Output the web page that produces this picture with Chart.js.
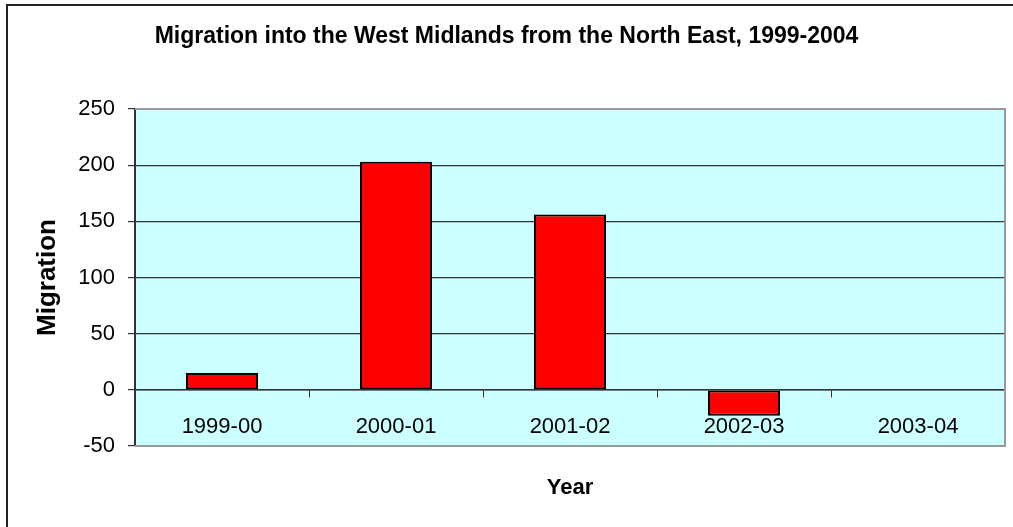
<!DOCTYPE html>
<html><head><meta charset="utf-8">
<script src="https://cdn.jsdelivr.net/npm/chart.js@4.4.1/dist/chart.umd.min.js"></script>
<style>html,body{margin:0;padding:0;background:#fff}#wrap{position:relative;width:1013px;height:527px}</style>
</head><body><div id="wrap"><canvas id="c" width="1013" height="527"></canvas></div>
<script>
const categories = ['1999-00', '2000-01', '2001-02', '2002-03', '2003-04'];
const migration = [15, 203, 156, -23, null];
const yTicks = [-50, 0, 50, 100, 150, 200, 250];
const chartTitle = 'Migration into the West Midlands from the North East, 1999-2004';
const xTitle = 'Year';
const yTitle = 'Migration';

Chart.defaults.font.family = '"Liberation Sans", Arial, sans-serif';
Chart.defaults.color = '#000';

const framePlugin = {
  id: 'framePlugin',
  beforeDraw(chart) {
    const {ctx, chartArea: a} = chart;
    ctx.save();
    ctx.fillStyle = '#CCFFFF';
    ctx.fillRect(a.left, a.top, a.right - a.left, a.bottom - a.top);
    ctx.strokeStyle = '#222';
    ctx.lineWidth = 2;
    ctx.beginPath();
    ctx.moveTo(7, chart.height);
    ctx.lineTo(7, 5);
    ctx.lineTo(chart.width, 5);
    ctx.stroke();
    ctx.restore();
  },
  afterDraw(chart) {
    const {ctx, chartArea: a} = chart;
    ctx.save();
    ctx.strokeStyle = '#999';
    ctx.lineWidth = 2;
    ctx.beginPath();
    ctx.moveTo(a.left, a.top);
    ctx.lineTo(a.right, a.top);
    ctx.lineTo(a.right, a.bottom);
    ctx.lineTo(a.left, a.bottom);
    ctx.stroke();
    ctx.restore();
  }
};

new Chart(document.getElementById('c'), {
  type: 'bar',
  data: {
    labels: categories,
    datasets: [{
      data: migration,
      backgroundColor: '#FF0000',
      borderColor: '#000',
      borderWidth: 2,
      borderSkipped: false,
      barPercentage: 0.414,
      categoryPercentage: 1
    }]
  },
  options: {
    responsive: false,
    animation: false,
    devicePixelRatio: 1,
    layout: {padding: {left: 8, right: 8, top: 0, bottom: 81}},
    plugins: {
      legend: {display: false},
      tooltip: {enabled: false},
      title: {
        display: true,
        text: chartTitle,
        font: {size: 23, weight: 'bold'},
        color: '#000',
        padding: {top: 23.2, bottom: 58.2}
      }
    },
    scales: {
      x: {
        type: 'category',
        position: {y: 0},
        offset: true,
        grid: {offset: true, drawOnChartArea: false, drawTicks: true, tickLength: 7, color: '#333', tickColor: '#333'},
        border: {display: true, color: '#333', width: 1.5},
        ticks: {font: {size: 22}, color: '#000', padding: 16.5, maxRotation: 0, autoSkip: false},
        title: {display: true, text: xTitle, font: {size: 22, weight: 'bold'}, color: '#000', padding: {top: 19, bottom: 0}}
      },
      y: {
        min: -50,
        max: 250,
        afterBuildTicks: s => { s.ticks = yTicks.map(v => ({value: v})); },
        afterFit: s => { s.width = 127; },
        grid: {
          color: c => (c.tick && (c.tick.value === 250 || c.tick.value === -50)) ? 'rgba(0,0,0,0)' : '#333',
          lineWidth: 1.2,
          drawTicks: true,
          tickLength: 7,
          tickColor: '#333',
          tickWidth: 1.2
        },
        border: {display: true, color: '#333', width: 2},
        ticks: {font: {size: 22}, color: '#000', padding: 13},
        title: {display: true, text: yTitle, font: {size: 26, weight: 'bold'}, color: '#000', padding: {top: 24.4, bottom: 0}}
      }
    }
  },
  plugins: [framePlugin]
});
</script>
</body></html>
